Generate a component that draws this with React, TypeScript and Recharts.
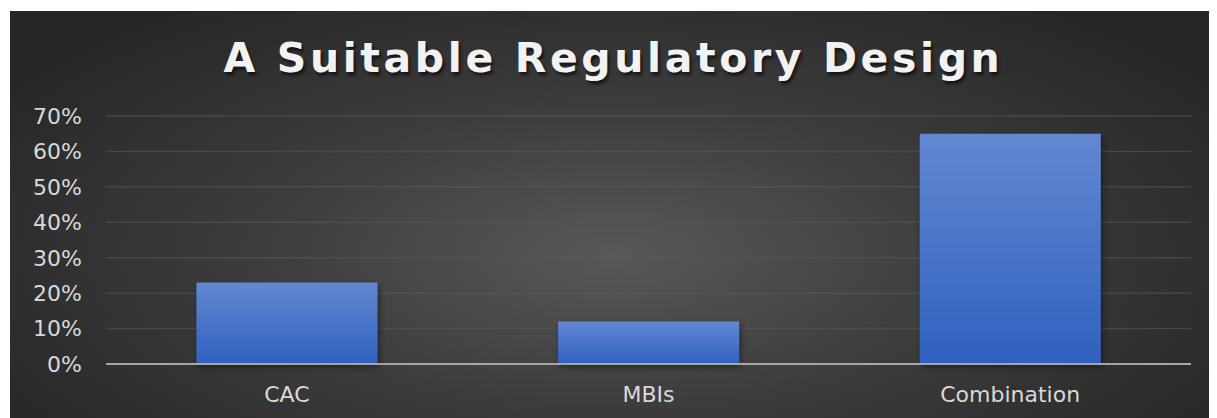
import React from 'react';
import { BarChart, Bar, XAxis, YAxis, CartesianGrid } from 'recharts';

const categories = ['CAC', 'MBIs', 'Combination'];
const shares = [0.23, 0.12, 0.65];
const yTicks = [0, 0.1, 0.2, 0.3, 0.4, 0.5, 0.6, 0.7];

const data = categories.map((name, i) => ({ name, value: shares[i] }));

const FONT = '"DejaVu Sans", Verdana, sans-serif';

const App: React.FC = () => {
    return (
        <div
            style={{
                position: 'relative',
                marginLeft: 2,
                marginTop: 3,
                width: 1207,
                height: 407,
                background: 'radial-gradient(ellipse 60% 75% at 50% 60%, #585858 0%, #3c3c3c 50%, #272727 100%)',
                fontFamily: FONT,
            }}
        >
            <div
                style={{
                    position: 'absolute',
                    top: 23,
                    left: 0,
                    width: '100%',
                    textAlign: 'center',
                    color: '#f2f2f2',
                    fontSize: 41,
                    fontWeight: 'bold',
                    letterSpacing: 3.6,
                    textShadow: '2px 3px 3px rgba(0,0,0,0.6)',
                }}
            >
                A Suitable Regulatory Design
            </div>
            <BarChart
                width={1207}
                height={407}
                data={data}
                margin={{ top: 105, right: 26, bottom: 0, left: 0 }}
                barCategoryGap="25%"
                style={{ position: 'absolute', top: 0, left: 0 }}
            >
                <defs>
                    <linearGradient id="barFill" x1="0" y1="0" x2="0" y2="1">
                        <stop offset="0%" stopColor="#6288d1" />
                        <stop offset="100%" stopColor="#2f61bf" />
                    </linearGradient>
                    <filter id="barShadow" x="-10%" y="-10%" width="120%" height="130%">
                        <feDropShadow dx="2" dy="3" stdDeviation="3" floodColor="#000" floodOpacity="0.45" />
                    </filter>
                </defs>
                <CartesianGrid vertical={false} stroke="#5a5a5a" strokeOpacity={0.55} strokeWidth={1.5} />
                <XAxis
                    dataKey="name"
                    height={54}
                    tickSize={0}
                    tickMargin={22}
                    axisLine={{ stroke: '#a6a6a6', strokeWidth: 2 }}
                    tick={{ fill: '#d9d9d9', fontSize: 22, fontFamily: FONT }}
                />
                <YAxis
                    width={96}
                    domain={[0, 0.7]}
                    ticks={yTicks}
                    tickFormatter={(v: number) => `${Math.round(v * 100)}%`}
                    axisLine={false}
                    tickSize={0}
                    tickMargin={24}
                    tick={{ fill: '#d9d9d9', fontSize: 22, fontFamily: FONT }}
                />
                <Bar
                    dataKey="value"
                    fill="url(#barFill)"
                    filter="url(#barShadow)"
                    isAnimationActive={false}
                />
            </BarChart>
        </div>
    );
};

export default App;
